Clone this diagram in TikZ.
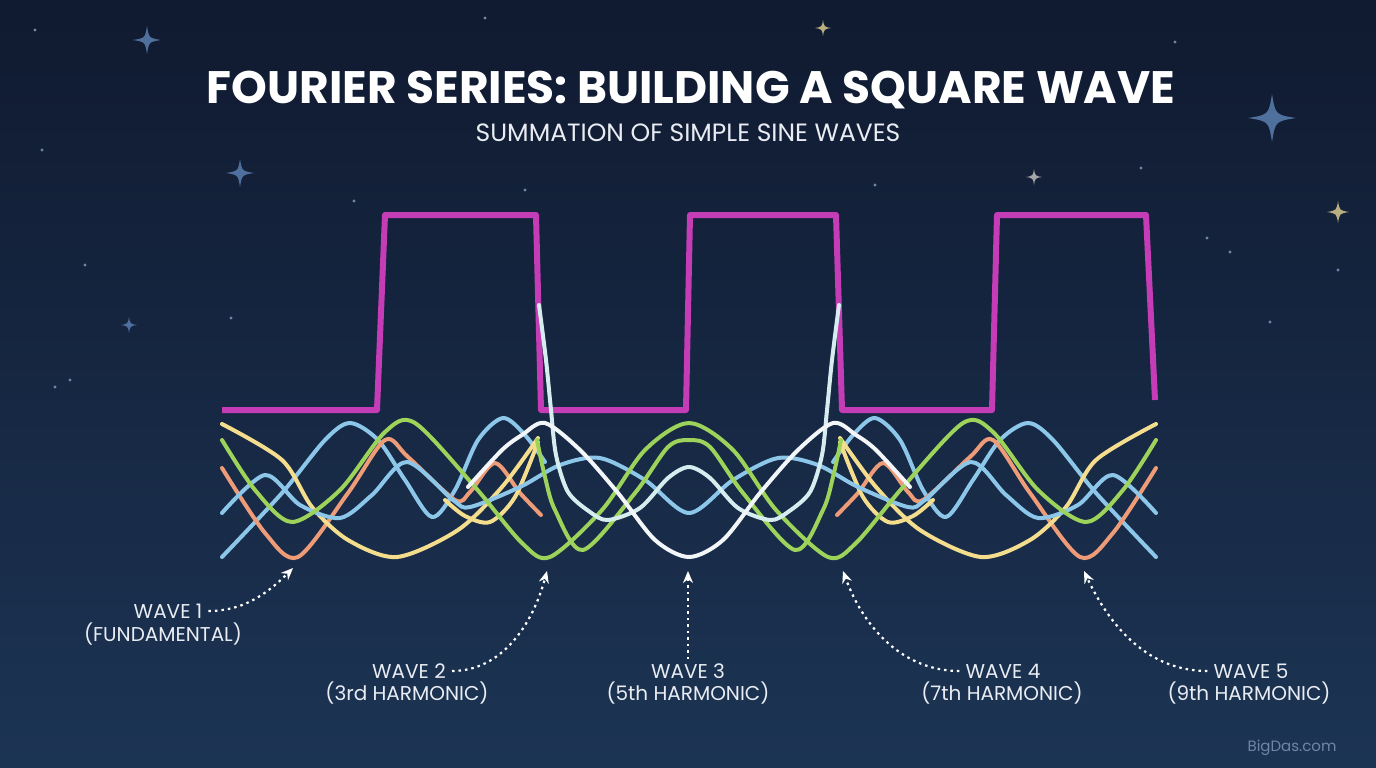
\documentclass[tikz,border=0pt]{standalone}
\usepackage{fontspec}
\setmainfont{Poppins}
\usetikzlibrary{arrows.meta}

\definecolor{bgtop}{HTML}{101A30}
\definecolor{bgbottom}{HTML}{1C3454}
\definecolor{squarecol}{HTML}{C43DB6}
\definecolor{wyellow}{HTML}{F4DE8E}
\definecolor{wblue}{HTML}{8CC7EA}
\definecolor{wgreen}{HTML}{9DD35A}
\definecolor{worange}{HTML}{EE9B77}
\definecolor{wwhite}{HTML}{F3F6F8}
\definecolor{wpale}{HTML}{D6EDF0}
\definecolor{labeltext}{HTML}{E9EDF3}
\definecolor{starblue}{HTML}{4F6F9C}
\definecolor{stargold}{HTML}{B9AE80}
\definecolor{stardot}{HTML}{6F86A8}

\newcommand{\sparkle}[4]{\fill[#4] (#1,#2-#3) .. controls (#1+0.14*#3,#2-0.14*#3) .. (#1+#3,#2) .. controls (#1+0.14*#3,#2+0.14*#3) .. (#1,#2+#3) .. controls (#1-0.14*#3,#2+0.14*#3) .. (#1-#3,#2) .. controls (#1-0.14*#3,#2-0.14*#3) .. cycle;}

\tikzset{
  wave/.style={line width=4pt, line cap=round, line join=round},
  lbl/.style={text=labeltext, font=\fontsize{20}{24}\selectfont, inner sep=0pt},
  pointer/.style={draw=white, line width=2.2pt, dash pattern=on 2.5pt off 4pt, -{Stealth[length=12pt,width=10pt]}, shorten <=6pt}
}

\begin{document}
\begin{tikzpicture}[x=1pt,y=-1pt]
\fill[top color=bgtop, bottom color=bgbottom] (0,0) rectangle (1376,768);
\useasboundingbox (0,0) rectangle (1376,768);

\sparkle{147}{40}{14}{starblue}
\sparkle{240}{173}{14}{starblue}
\sparkle{129}{325}{8}{starblue}
\sparkle{1272}{118}{24}{starblue}
\sparkle{1338}{212}{11}{stargold}
\sparkle{1034}{177}{8}{gray!70}
\sparkle{823}{28}{8}{stargold}
\foreach \p in {(42,150),(35,30),(485,18),(525,190),(875,185),(1175,42),(1141,168),(1207,238),(1230,252),(1270,322),(55,387),(70,380),(85,265),(354,201),(231,318),(612,98),(1338,270)}
  \fill[stardot] \p circle (1.6pt);

\node[text=white, font=\fontsize{45.5}{54}\selectfont\bfseries] (title) at (691,90) {FOURIER SERIES: BUILDING A SQUARE WAVE};
\node[text=labeltext, font=\fontsize{25}{30}\selectfont] (subtitle) at (688,133) {SUMMATION OF SIMPLE SINE WAVES};

\draw[squarecol, line width=6pt, line join=round] (222,410) -- (377,410) -- (385,215) -- (536,215) -- (541,410) -- (686,410) -- (690,215) -- (836,215) -- (842,410) -- (992,410) -- (997,215) -- (1146,215) -- (1155,400);

\foreach \s/\o in {1/0,-1/1378}{
\begin{scope}[xshift=\o pt, xscale=\s]
  \draw[wave, wblue] plot[smooth] coordinates {(222,557) (282,493) (325,440) (350,423) (378,440) (405,480) (432,517) (455,490) (478,440) (503,418) (525,435) (545,462)};
  \draw[wave, worange] plot[smooth] coordinates {(222,468) (265,533) (298,557) (348,493) (385,440) (408,457) (455,500) (470,492) (495,463) (520,493) (541,515)};
  \draw[wave, wyellow] plot[smooth] coordinates {(222,424) (282,460) (312,507) (348,540) (397,557) (458,530) (502,487) (538,438)};
  \draw[wave, wyellow] plot[smooth] coordinates {(445,500) (465,516) (490,522) (515,497) (538,442)};
\end{scope}}

\draw[wave, wblue] plot[smooth] coordinates {(222,513) (265,475) (300,505) (340,518) (372,495) (407,462) (453,500) (470,507) (520,487) (560,465) (600,458) (645,480) (689,513) (733,480) (778,458) (818,465) (858,487) (908,507) (925,500) (971,462) (1006,495) (1038,518) (1078,505) (1113,475) (1156,513)};
\draw[wave, wgreen] plot[smooth] coordinates {(222,440) (255,490) (292,522) (340,490) (385,432) (415,423) (475,487) (522,543) (550,557) (602,510) (645,450) (689,423) (733,450) (776,510) (828,557) (856,543) (903,487) (963,423) (993,432) (1038,490) (1086,522) (1123,490) (1156,440)};
\draw[wave, wgreen] plot[smooth] coordinates {(537,440) (545,477) (555,510) (583,550) (635,493) (668,447) (689,440) (710,447) (743,493) (795,550) (823,510) (833,477) (841,440)};
\draw[wave, wpale] plot[smooth] coordinates {(539,305) (546,360) (551,410) (556,455) (568,492) (590,512) (608,520) (640,508) (668,478) (689,467) (710,478) (738,508) (770,520) (788,512) (810,492) (822,455) (827,410) (832,360) (839,305)};
\draw[wave, wwhite] plot[smooth] coordinates {(468,487) (502,450) (522,435) (545,423) (580,450) (618,493) (655,540) (689,557) (723,540) (760,493) (798,450) (833,423) (856,435) (876,450) (910,487)};

\node[lbl] (w1) at (168,611) {WAVE 1};
\node[lbl] (w1s) at (163,634) {(FUNDAMENTAL)};
\node[lbl] (w2) at (409,671) {WAVE 2};
\node[lbl] (w2s) at (407,693) {(3rd HARMONIC)};
\node[lbl] (w3) at (688,671) {WAVE 3};
\node[lbl] (w3s) at (688,693) {(5th HARMONIC)};
\node[lbl] (w4) at (1003,671) {WAVE 4};
\node[lbl] (w4s) at (1002,693) {(7th HARMONIC)};
\node[lbl] (w5) at (1251,671) {WAVE 5};
\node[lbl] (w5s) at (1249,693) {(9th HARMONIC)};

\coordinate (t1) at (293,568);
\coordinate (t2) at (547,571);
\coordinate (t3) at (688,571);
\coordinate (t4) at (843,571);
\coordinate (t5) at (1084,571);
\draw[pointer] (w1.east) to[out=0,in=225] (t1);
\draw[pointer] (w2.east) to[out=0,in=255] (t2);
\draw[pointer, shorten <=4pt] (w3.north) -- (t3);
\draw[pointer] (w4.west) to[out=180,in=290] (t4);
\draw[pointer] (w5.west) to[out=180,in=295] (t5);

\node[text=stardot, font=\fontsize{15}{18}\selectfont] (mark) at (1292,748) {BigDas.com};
\end{tikzpicture}
\end{document}
